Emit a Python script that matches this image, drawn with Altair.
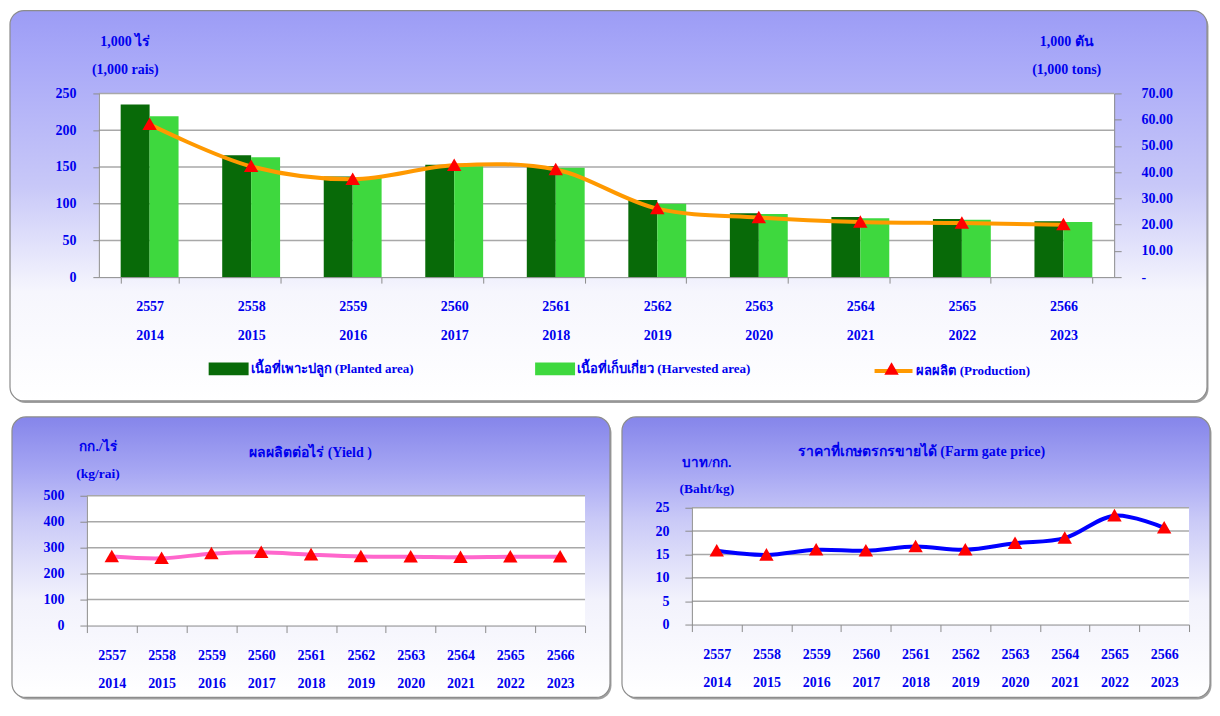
import altair as alt
import pandas as pd

# ---------------- data ----------------
years_be = ["2557", "2558", "2559", "2560", "2561", "2562", "2563", "2564", "2565", "2566"]
years_ce = ["2014", "2015", "2016", "2017", "2018", "2019", "2020", "2021", "2022", "2023"]
planted = [235, 166, 137, 153, 151, 105, 87, 82, 79, 76]
harvested = [219, 163, 135, 151, 149, 100, 86, 80, 78, 75]
production = [58.2, 42.2, 37.3, 42.6, 41.0, 26.1, 22.7, 21.0, 20.6, 20.0]
yield_kg = [266, 259, 277, 282, 273, 266, 265, 263, 265, 265]
price = [15.8, 14.9, 16.0, 15.8, 16.7, 16.0, 17.4, 18.5, 23.3, 20.7]

series_names = ["เนื้อที่เพาะปลูก (Planted area)", "เนื้อที่เก็บเกี่ยว (Harvested area)"]
prod_name = "ผลผลิต (Production)"
left_unit = ["1,000 ไร่", "(1,000 rais)"]
right_unit = ["1,000 ตัน", "(1,000 tons)"]
yield_unit = ["กก./ไร่", "(kg/rai)"]
price_unit = ["บาท/กก.", "(Baht/kg)"]
yield_title = "ผลผลิตต่อไร่ (Yield )"
price_title = "ราคาที่เกษตรกรขายได้  (Farm gate price)"
left_ticks = [0, 50, 100, 150, 200, 250]
right_ticks = [0, 10, 20, 30, 40, 50, 60, 70]
yield_ticks = [0, 100, 200, 300, 400, 500]
price_ticks = [0, 5, 10, 15, 20, 25]

labels = [f"{b}|{c}" for b, c in zip(years_be, years_ce)]

area_df = pd.DataFrame({
    "lbl": labels * 2,
    "series": [series_names[0]] * len(labels) + [series_names[1]] * len(labels),
    "value": planted + harvested,
})
prod_df = pd.DataFrame({"lbl": labels, "prod": production, "p": prod_name, "q": "tri"})
yield_df = pd.DataFrame({"lbl": labels, "v": yield_kg})
price_df = pd.DataFrame({"lbl": labels, "v": price})

# ---------------- styles ----------------
BLUE = "#0000EE"
FONT = "Liberation Serif"
DARK = "#086a08"
LIGHT = "#3ed83e"
ORANGE = "#FF9900"
RED = "#FF0000"
PINK = "#FF66CC"
LINEBLUE = "#0000FF"
GRID = "#a8a8a8"
AXC = "#8c8c8c"
TRI = "M0,-0.36L0.38,0.3L-0.38,0.3Z"
RECT = "M-1,-0.32L1,-0.32L1,0.32L-1,0.32Z"
ONE = alt.Data(values=[{"k": 1}])

ax_common = dict(labelFont=FONT, labelFontSize=14, labelFontWeight="bold", labelColor=BLUE,
                 domainColor=AXC, tickColor=AXC, grid=False, zindex=1,
                 titleFont=FONT, titleFontWeight="bold", titleColor=BLUE)


def panel(x1, x2, y1, y2, stops):
    grad = alt.Gradient(gradient="linear", x1=0, x2=0, y1=0, y2=1,
                        stops=[alt.GradientStop(offset=o, color=c) for o, c in stops])
    shadow = alt.Chart(ONE).mark_rect(cornerRadius=14, fill="#a0a0a0").encode(
        x=alt.value(x1 + 1.5), x2=alt.value(x2 + 1.5), y=alt.value(y1 + 2), y2=alt.value(y2 + 2))
    main = alt.Chart(ONE).mark_rect(cornerRadius=14, fill=grad, stroke=AXC, strokeWidth=1.2).encode(
        x=alt.value(x1), x2=alt.value(x2), y=alt.value(y1), y2=alt.value(y2))
    return [shadow, main]


def white(x1, x2, y1, y2):
    return alt.Chart(ONE).mark_rect(fill="white").encode(
        x=alt.value(x1), x2=alt.value(x2), y=alt.value(y1), y2=alt.value(y2))


def xaxis(tick, pad, lh, inner, outer, rng=None):
    sc = dict(type="band", paddingInner=inner, paddingOuter=outer)
    if rng is not None:
        sc["range"] = rng
    return alt.X("lbl:N", sort=labels, scale=alt.Scale(**sc),
                 axis=alt.Axis(title=None, labelExpr="split(datum.label, '|')", labelAngle=0,
                               tickBand="extent", tickSize=tick, labelPadding=pad,
                               labelLineHeight=lh, labelBaseline="top", **ax_common))


# ---------------- top panel ----------------
TW, TH = 1017, 184
x_top = xaxis(6, 16, 29, 0.43, 0.215)
y_left = alt.Y("value:Q", scale=alt.Scale(domain=[0, 250], nice=False),
               axis=alt.Axis(values=left_ticks, title=left_unit, titleAngle=0, titleAlign="center",
                             titleBaseline="alphabetic", titleX=26, titleY=-48, titleLineHeight=28.5,
                             titleFontSize=14, tickSize=6, labelPadding=17, **ax_common))
grid_top = alt.Chart(pd.DataFrame({"value": left_ticks[1:]})).mark_rule(
    color=GRID, strokeWidth=1.5).encode(y=y_left)
bars = alt.Chart(area_df).mark_bar().encode(
    x=x_top,
    xOffset=alt.XOffset("series:N", sort=series_names, scale=alt.Scale(paddingInner=0, paddingOuter=0)),
    y=y_left,
    color=alt.Color("series:N", sort=series_names,
                    scale=alt.Scale(domain=series_names, range=[DARK, LIGHT]),
                    legend=alt.Legend(title=None, orient="none", legendX=110, legendY=256,
                                      direction="horizontal", symbolType=RECT, symbolSize=1600,
                                      symbolStrokeWidth=0, symbolOpacity=1, labelFont=FONT,
                                      labelFontSize=13, labelFontWeight="bold", labelColor=BLUE,
                                      labelOffset=2, labelLimit=400, columnPadding=121, padding=0)),
)
y_right = alt.Y("prod:Q", scale=alt.Scale(domain=[0, 70], nice=False),
                axis=alt.Axis(orient="right", values=right_ticks,
                              labelExpr="datum.value == 0 ? '-' : format(datum.value, '.2f')",
                              title=right_unit, titleAngle=0, titleAlign="center",
                              titleBaseline="alphabetic", titleX=-48, titleY=-48, titleLineHeight=28.5,
                              titleFontSize=14, tickSize=7, labelPadding=20, labelAlign="left",
                              **ax_common))
line = alt.Chart(prod_df).mark_line(interpolate="catmull-rom", strokeWidth=4).encode(
    x=x_top, y=y_right,
    stroke=alt.Stroke("p:N", scale=alt.Scale(domain=[prod_name], range=[ORANGE]),
                      legend=alt.Legend(title=None, orient="none", legendX=775, legendY=257,
                                        symbolType="stroke", symbolSize=1444, symbolStrokeWidth=4,
                                        labelFont=FONT, labelFontSize=13, labelFontWeight="bold",
                                        labelColor=BLUE, labelOffset=2, labelLimit=400, padding=0)),
)
pts = alt.Chart(prod_df).mark_point(filled=True, opacity=1, size=1444, color=RED).encode(
    x=x_top, y=y_right,
    shape=alt.Shape("q:N", scale=alt.Scale(domain=["tri"], range=[TRI]),
                    legend=alt.Legend(title=None, orient="none", legendX=775, legendY=257,
                                      symbolSize=1444, symbolFillColor=RED, symbolStrokeWidth=0,
                                      symbolOpacity=1, labelExpr="''", padding=0)),
)
top_stops = [(0, "#9c9cf5"), (0.12, "#a8a8f8"), (0.45, "#c8c8f8"), (0.72, "#f6f6fd"), (1, "#ffffff")]
top = alt.layer(*panel(-89, 1110, -83, 308, top_stops), white(0, TW, 0, TH),
                alt.layer(grid_top, bars), alt.layer(line, pts)).resolve_scale(
    y="independent").properties(width=TW, height=TH)

bot_stops = [(0, "#8585ea"), (0.19, "#a6a6f3"), (0.37, "#cacaf7"), (0.65, "#f2f2fc"), (1, "#ffffff")]


def small_panel(df, ticks, unit, title, w, h, lp, tp, rect, uy, ulh, ux, tcx, tcy, color):
    # plot area spans x in [-lp, w] and y in [tp, h] of the view
    xb = xaxis(7, 16, 28, 0, 0, rng=[-lp, w])
    yb = alt.Y("v:Q", scale=alt.Scale(domain=[ticks[0], ticks[-1]], nice=False, range=[h, tp]),
               axis=alt.Axis(values=ticks, title=unit, titleAngle=0, titleAlign="center",
                             titleBaseline="alphabetic", titleX=ux, titleY=uy, titleLineHeight=ulh,
                             titleFontSize=13.5, tickSize=7, labelPadding=16, offset=lp, **ax_common))
    grid = alt.Chart(pd.DataFrame({"v": ticks[1:]})).mark_rule(color=GRID, strokeWidth=1.5).encode(
        y=yb, x=alt.value(-lp), x2=alt.value(w))
    ln = alt.Chart(df).mark_line(interpolate="catmull-rom", strokeWidth=4, color=color).encode(x=xb, y=yb)
    pt = alt.Chart(df).mark_point(filled=True, opacity=1, size=1444, color=RED, shape=TRI).encode(x=xb, y=yb)
    ttl = alt.Chart(ONE).mark_text(text=title, font=FONT, fontSize=14, fontWeight="bold", color=BLUE,
                                   align="center", baseline="middle").encode(x=alt.value(tcx), y=alt.value(tcy))
    return alt.layer(*panel(*rect, bot_stops), white(-lp, w, tp, h), grid, ln, pt, ttl).properties(
        width=w, height=h)


# bottom-left: view origin at page (99, 496), plot area page x 87..586, y 496..626
bl = small_panel(yield_df, yield_ticks, yield_unit, yield_title, 487, 130, 12, 0,
                 (-87, 512, -79, 202), -45, 26.5, 10.6, 212, -43, PINK)
# bottom-right: view origin at page (691, 496), plot area page x 691..1189, y 508..625
br = small_panel(price_df, price_ticks, price_unit, price_title, 498, 129, 0, 12,
                 (-70, 519, -79, 202), -29, 25.5, 14.5, 230, -44, LINEBLUE)

chart = alt.vconcat(top, alt.hconcat(bl, br, spacing=8), spacing=11).resolve_scale(
    color="independent", stroke="independent", shape="independent").resolve_legend(
    color="independent", stroke="independent", shape="independent").properties(
    padding={"left": 0, "top": 0, "right": 0, "bottom": 0}, background="white").configure_view(
    stroke="transparent").configure(font=FONT)

chart.save("out.html", embed_options={"renderer": "svg", "actions": False})
